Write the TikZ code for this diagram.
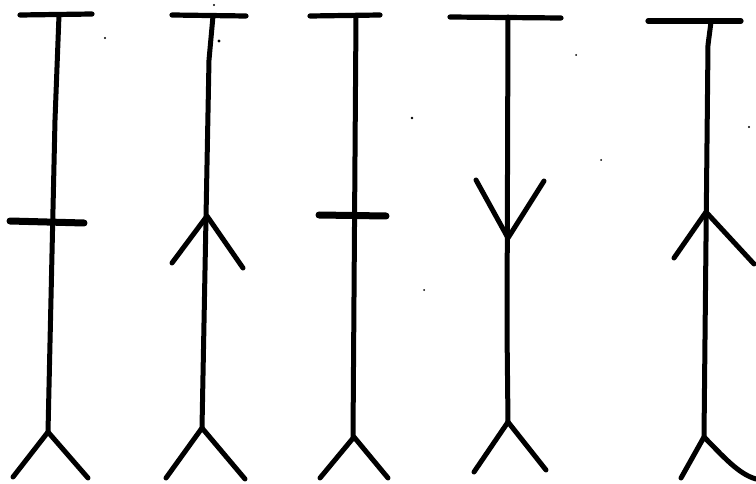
\documentclass[tikz,border=0pt]{standalone}
\begin{document}
\begin{tikzpicture}[x=1pt,y=-1pt,
  stroke/.style={line width=5pt,line cap=round,line join=round,black},
  topbar/.style={line width=5.2pt,line cap=round,black},
  crossbar/.style={line width=7pt,line cap=round,black},
  speck/.style={fill=black}]
\useasboundingbox (0,0) rectangle (756,484);
% figure 1
\draw[topbar] (20,15) -- (92,14);
\draw[stroke] (59,15) -- (55,120) -- (48,432);
\draw[crossbar] (10,221) -- (84,223);
\draw[stroke] (13,477) -- (48,432) -- (88,478);
% figure 2
\draw[topbar] (172,15) -- (246,16);
\draw[stroke] (213,16) -- (209,60) -- (202,428);
\draw[stroke] (172,263) -- (207,216) -- (243,268);
\draw[stroke] (166,478) -- (202,428) -- (245,479);
% figure 3
\draw[topbar] (310,16) -- (380,15);
\draw[stroke] (356,16) -- (353,437);
\draw[crossbar] (319,215) -- (386,216);
\draw[stroke] (320,478) -- (354,437) -- (388,478);
% figure 4
\draw[topbar] (450,17) -- (561,18);
\draw[stroke] (508,17) -- (507,330) -- (508,422);
\draw[stroke] (476,180) -- (508,238) -- (544,181);
\draw[stroke] (474,472) -- (508,422) -- (546,470);
% figure 5
\draw[topbar] (648,21) -- (741,21);
\draw[stroke] (711,22) -- (708,45) -- (704,437);
\draw[stroke] (674,258) -- (706,212) -- (754,264);
\draw[stroke] (681,478) -- (704,437) .. controls (722,455) and (738,474) .. (756,479);
% specks
\fill[speck] (105,38) circle (1.1);
\fill[speck] (214,5) circle (1.2);
\fill[speck] (219,41) circle (1.6);
\fill[speck] (412,118) circle (1.3);
\fill[speck] (576,55) circle (1);
\fill[speck] (601,160) circle (1);
\fill[speck] (749,127) circle (1.1);
\fill[speck] (424,290) circle (1);
\end{tikzpicture}
\end{document}
